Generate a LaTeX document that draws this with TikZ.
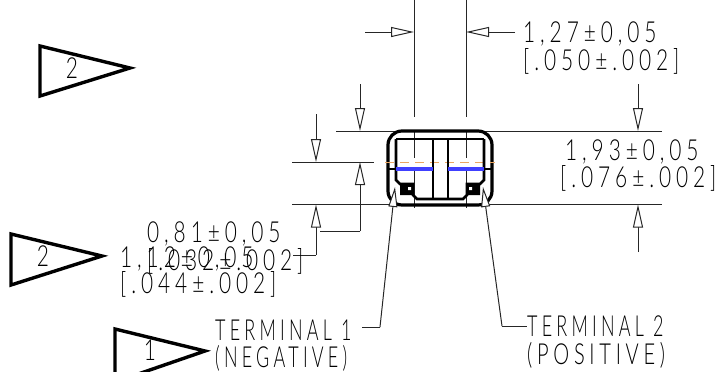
\documentclass[tikz,border=0pt]{standalone}
\usepackage{fontspec}
\usetikzlibrary{arrows.meta}
\newfontfamily\draftfont[FakeStretch=0.72,LetterSpace=17]{Lato Light}
\tikzset{
  x=1pt,y=-1pt,
  dimline/.style={draw=black!85,line width=1pt},
  dimarrow/.style={dimline,-{Triangle[open,length=23pt,width=10pt,fill=white]}},
  leaderarrow/.style={dimline,-{Triangle[open,length=20pt,width=9pt,fill=white]}},
  flagshape/.style={draw=black,line width=3.4pt,miter limit=10},
  bodyline/.style={draw=black,line width=2.8pt},
  bluebar/.style={draw=blue!75!white,line width=3.4pt},
  centerdash/.style={draw=orange!55!brown!70!white,line width=1pt,dash pattern=on 9pt off 6pt},
  txt/.style={anchor=base west,inner sep=0pt,font=\draftfont\fontsize{29}{29}\selectfont,text=black},
  flagtxt/.style={anchor=center,inner sep=0pt,font=\draftfont\fontsize{29}{29}\selectfont,text=black}
}
\begin{document}
\begin{tikzpicture}
\useasboundingbox (0,0) rectangle (721,372);
\clip (0,0) rectangle (721,372);
% extension lines
\draw[dimline] (414,0) -- (414,117) (414,130) -- (414,158) (414,170) -- (414,208);
\draw[dimline] (466,0) -- (466,117) (466,130) -- (466,158) (466,170) -- (466,208);
\draw[dimline] (336,131) -- (395,131) (482,131) -- (662,131);
\draw[dimline] (292,162) -- (374,162);
\draw[dimline] (292,204.5) -- (392,204.5) (488,204.5) -- (662,204.5);
% named dimension ends
\coordinate (wl) at (365,32); \coordinate (wlt) at (414,32);
\coordinate (wr) at (515,32); \coordinate (wrt) at (466,32);
\coordinate (ha) at (360,84); \coordinate (hat) at (360,131);
\coordinate (hb) at (360,231); \coordinate (hbt) at (360,162);
\coordinate (hc) at (320,231);
\coordinate (tt) at (316,114); \coordinate (ttt) at (316,162);
\coordinate (tb) at (316,255); \coordinate (tbt) at (316,204.5);
\coordinate (td) at (293,255);
\coordinate (ra) at (638,84); \coordinate (rat) at (638,131);
\coordinate (rb) at (638,252); \coordinate (rbt) at (638,204.5);
\draw[dimarrow] (wl) -- (wlt);
\draw[dimarrow] (wr) -- (wrt);
\draw[dimarrow] (ha) -- (hat);
\draw[dimarrow] (hb) -- (hbt);
\draw[dimline] (hc) -- (hb);
\draw[dimarrow] (tt) -- (ttt);
\draw[dimarrow] (tb) -- (tbt);
\draw[dimline] (td) -- (tb);
\draw[dimarrow] (ra) -- (rat);
\draw[dimarrow] (rb) -- (rbt);
% body
\draw[bodyline,line width=3.2pt,rounded corners=14pt] (388,131) rectangle (492,205);
\draw[centerdash] (385,162) -- (495,162);
\draw[bodyline] (396,139) -- (484,139);
\draw[bodyline] (396,139) -- (396,180) -- (400,184) -- (413,184) -- (413,195) -- (417,199) -- (463,199) -- (467,195) -- (467,184) -- (480,184) -- (484,180) -- (484,139);
\draw[bodyline] (433,139) -- (433,199) (448,139) -- (448,199);
\draw[bodyline] (388,169) -- (396,169) (484,169) -- (492,169);
\fill[black] (400,184) rectangle (413,195) (467,184) rectangle (480,195);
\fill[white] (408,187) rectangle (411,190) (469,187) rectangle (472,190);
\draw[bluebar] (396,169) -- (433,169);
\draw[bluebar] (448,169) -- (484,169);
% leaders
\coordinate (l1c) at (380,327); \coordinate (l1t) at (395,187); \coordinate (l1e) at (362,327);
\coordinate (l2c) at (502,326); \coordinate (l2t) at (483,187); \coordinate (l2e) at (527,326);
\draw[leaderarrow] (l1c) -- (l1t);
\draw[dimline] (l1c) -- (l1e);
\draw[leaderarrow] (l2c) -- (l2t);
\draw[dimline] (l2c) -- (l2e);
% flags
\draw[flagshape] (40,46) -- (130,68) -- (40,96) -- cycle;
\draw[flagshape] (11,234) -- (102,256) -- (11,285) -- cycle;
\draw[flagshape] (115,329) -- (205,351) -- (115,382) -- cycle;
\node[flagtxt] (f1) at (72,68) {2};
\node[flagtxt] (f2) at (43,256) {2};
\node[flagtxt] (f3) at (150,350) {1};
% texts
\node[txt] (a1) at (523,42) {1,27±0,05};
\node[txt] (a2) at (523,70) {[.050±.002]};
\node[txt] (b1) at (565,160) {1,93±0,05};
\node[txt] (b2) at (560,187) {[.076±.002]};
\node[txt] (c1) at (147,242) {0,81±0,05};
\node[txt] (c2) at (147,270) {[.032±.002]};
\node[txt] (d1) at (120,267) {1,12±0,05};
\node[txt] (d2) at (120,293) {[.044±.002]};
\node[txt] (t1) at (215,340) {\scalebox{0.86}[1]{TERMINAL 1}};
\node[txt] (t2) at (215,367) {\scalebox{0.86}[1]{(NEGATIVE)}};
\node[txt] (t3) at (527,336) {\scalebox{0.86}[1]{TERMINAL 2}};
\node[txt] (t4) at (527,364) {\scalebox{0.96}[1]{(POSITIVE)}};
\end{tikzpicture}
\end{document}
